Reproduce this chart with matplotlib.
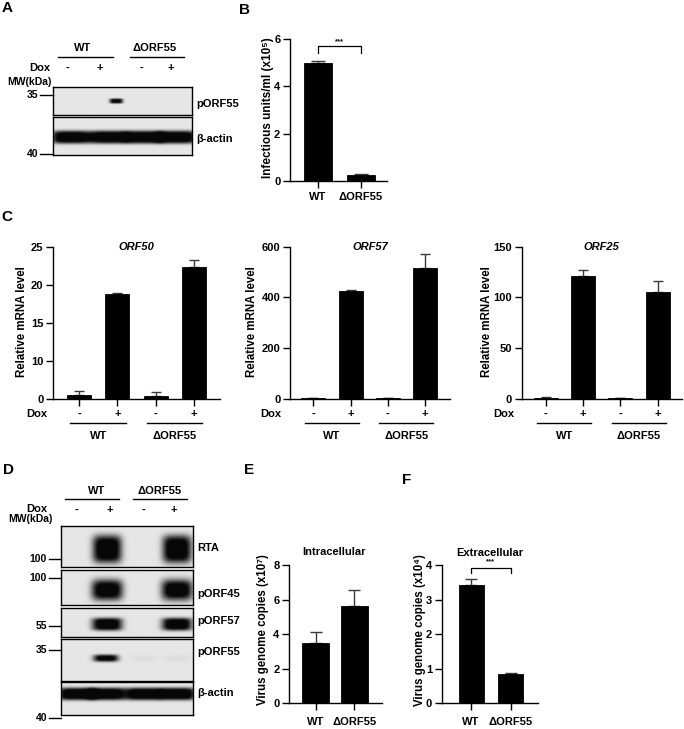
import numpy as np
import matplotlib.pyplot as plt
from matplotlib.lines import Line2D
from matplotlib.transforms import blended_transform_factory

plt.rcParams['font.family'] = ['Liberation Sans', 'DejaVu Sans']
plt.rcParams['font.weight'] = 'bold'
plt.rcParams['font.size'] = 8

# ---- data ----
groups = ['WT', 'ΔORF55']
dox = ['-', '+', '-', '+']

b_vals = [5.0, 0.26]
b_err = [0.08, 0.02]

orf50_vals = [1.0, 18.8, 0.8, 22.3]
orf50_err = [0.9, 0.1, 0.9, 1.0]
orf57_vals = [1.5, 425, 1.0, 515]
orf57_err = [0.5, 4, 0.5, 55]
orf25_vals = [1.0, 121, 0.5, 105.5]
orf25_err = [0.3, 5.7, 0.2, 10.7]

intra_vals = [3.5, 5.65]
intra_err = [0.6, 0.9]
extra_vals = [3.42, 0.86]
extra_err = [0.18, 0.02]

# band intensities per lane (WT -, WT +, dORF55 -, dORF55 +)
blotA_porf55 = [0, 0.9, 0, 0]
blotA_actin = [1, 1, 1, 1]
blotD_rta = [0, 1, 0, 1]
blotD_porf45 = [0, 1, 0, 1]
blotD_porf57 = [0, 1, 0, 1]
blotD_porf55 = [0, 0.95, 0.03, 0.03]
blotD_actin = [1, 1, 1, 1]

W, H = 684, 729
fig = plt.figure(figsize=(W / 100, H / 100), dpi=100)


def fx(x):
    return x / W


def fy(y):
    return 1 - y / H


def ftext(x, y, s, ha='center', **kw):
    fig.text(fx(x), fy(y), s, ha=ha, va='center', **kw)


def hline(x0, x1, y, lw=1.0):
    fig.add_artist(Line2D([fx(x0), fx(x1)], [fy(y), fy(y)], color='black', lw=lw))


def blot(x0, y0, x1, y1, lanes, levels, cy, hw, hh, bg=0.87, px=5, py=4):
    ax = fig.add_axes([fx(x0), fy(y1), (x1 - x0) / W, (y1 - y0) / H])
    xs = np.linspace(0, 1, 400)
    ys = np.linspace(0, 1, 150)
    X, Y = np.meshgrid(xs, ys)
    d = np.zeros_like(X)
    for cx, a in zip(lanes, levels):
        d += a * np.exp(-np.abs((X - cx) / hw) ** px) * np.exp(-np.abs((Y - cy) / hh) ** py)
    img = bg * (1 - np.clip(1.2 * d, 0, 1)) + 0.03
    ax.imshow(img, cmap='gray', vmin=0, vmax=1, extent=[0, 1, 1, 0],
              aspect='auto', interpolation='bilinear')
    ax.set_xticks([])
    ax.set_yticks([])
    for s in ax.spines.values():
        s.set_linewidth(1.0)
    return ax


def bar_axes(x0, x1, y_top, y_zero, centers, width_px, vals, errs, ymax, yticks,
             capsize=3, scale=None):
    ax = fig.add_axes([fx(x0), fy(y_zero), (x1 - x0) / W, (y_zero - y_top) / H])
    n = len(vals)
    step = (centers[-1] - centers[0]) / (n - 1)
    pos = np.arange(n)
    if scale is not None:
        ax.set_yscale('function', functions=scale)
    ax.errorbar(pos, vals, yerr=[np.zeros(n), errs], fmt='none', ecolor='#3a3a3a',
                elinewidth=1.0, capsize=capsize, capthick=1.0, zorder=2)
    ax.bar(pos, vals, width=width_px / step, color='black', edgecolor='black',
           linewidth=0.6, zorder=3)
    ax.set_xlim((x0 - centers[0]) / step, (x1 - centers[0]) / step)
    ax.set_ylim(0, ymax)
    ax.set_yticks(yticks)
    ax.set_xticks(pos)
    ax.spines['top'].set_visible(False)
    ax.spines['right'].set_visible(False)
    ax.spines['left'].set_linewidth(1.0)
    ax.spines['bottom'].set_linewidth(1.0)
    ax.tick_params(direction='out', length=5, width=1.0, labelsize=8, pad=2)
    return ax


def bracket(ax, x0, x1, y_top, y_low, y_star):
    ax.plot([x0, x0, x1, x1], [y_low, y_top, y_top, y_low], color='black', lw=0.9,
            clip_on=False)
    ax.text((x0 + x1) / 2, y_star, '***', ha='center', va='center', fontsize=5.5,
            clip_on=False)


# ---------------- panel letters ----------------
for s, x, y in [('A', 7, 8), ('B', 244, 10), ('C', 7, 217), ('D', 8, 470),
                ('E', 249, 470), ('F', 407, 480)]:
    ftext(x, y, s, fontsize=11)

# ---------------- panel A ----------------
ftext(83, 48, groups[0], fontsize=8)
ftext(155, 48, groups[1], fontsize=8)
hline(58, 113, 57)
hline(130, 184, 57)
ftext(40, 68, 'Dox', fontsize=8)
for x, s in zip([67, 100, 141, 171], dox):
    ftext(x, 68, s, fontsize=8)
ftext(29, 82, 'MW(kDa)', fontsize=7.5)
blot(53, 87, 192, 115, [0.13, 0.455, 0.65, 0.89], blotA_porf55, 0.5, 0.048, 0.09, px=4)
blot(53, 117, 192, 155, [0.13, 0.4, 0.65, 0.89], blotA_actin, 0.53, 0.14, 0.17)
ftext(38, 95, '35', ha='right', fontsize=7.5)
ftext(38, 154, '40', ha='right', fontsize=7.5)
hline(40, 53, 95)
hline(40, 53, 154)
ftext(196, 104, 'pORF55', ha='left', fontsize=8)
ftext(196, 139, 'β-actin', ha='left', fontsize=8)

# ---------------- panel B ----------------
axB = bar_axes(290, 387, 39, 181, [318, 361], 28, b_vals, b_err, 6, [0, 2, 4, 6], capsize=5)
axB.set_xticklabels(groups, fontsize=8)
axB.tick_params(axis='x', pad=3)
bracket(axB, 0, 1, 5.70, 5.41, 5.88)
ftext(268, 108, 'Infectious units/ml (x10⁵)', rotation=90, fontsize=8.5)

# ---------------- panel C ----------------
seg_fwd = lambda y: np.where(y <= 10, y / 10, 1 + (y - 10) / 5)
seg_inv = lambda u: np.where(u <= 1, u * 10, 10 + (u - 1) * 5)

c_specs = [
    ('ORF50', 53, 220, [79, 117, 155.5, 194], orf50_vals, orf50_err, 25, [0, 10, 15, 20, 25],
     (seg_fwd, seg_inv), 22),
    ('ORF57', 290, 450, [313.3, 351.3, 388, 425], orf57_vals, orf57_err, 600, [0, 200, 400, 600],
     None, 252),
    ('ORF25', 521.7, 681.7, [545.7, 583.3, 620.7, 657.7], orf25_vals, orf25_err, 150,
     [0, 50, 100, 150], None, 487),
]
for title, x0, x1, centers, vals, errs, ymax, yt, sc, ylab_x in c_specs:
    ax = bar_axes(x0, x1, 246.7, 398.7, centers, 24, vals, errs, ymax, yt, capsize=3.5, scale=sc)
    ax.set_xticklabels([])
    ax.text(0.5, 1.0, title, transform=ax.transAxes, ha='center', va='center',
            style='italic', fontsize=8)
    tr = blended_transform_factory(ax.transData, fig.transFigure)
    for i, s in enumerate(dox):
        ax.text(i, fy(414), s, transform=tr, ha='center', va='center', fontsize=8)
    ftext(centers[0] - 42, 414, 'Dox', fontsize=8)
    for a, b in [(0, 1), (2, 3)]:
        ax.plot([a - 0.23, b + 0.22], [fy(422.7)] * 2, transform=tr, color='black',
                lw=1.0, clip_on=False)
    ax.text(0.5, fy(435.7), groups[0], transform=tr, ha='center', va='center', fontsize=8)
    ax.text(2.5, fy(435.7), groups[1], transform=tr, ha='center', va='center', fontsize=8)
    ftext(ylab_x, 322, 'Relative mRNA level', rotation=90, fontsize=8.3)

# ---------------- panel D ----------------
ftext(97, 490.7, groups[0], fontsize=8)
ftext(159.3, 490.7, groups[1], fontsize=8)
hline(65, 119, 499.3)
hline(132.7, 187.3, 499.3)
ftext(37, 509.5, 'Dox', fontsize=8)
for x, s in zip([76.7, 110, 143.3, 174], dox):
    ftext(x, 509.5, s, fontsize=8)
ftext(30, 519, 'MW(kDa)', fontsize=7.5)

d_lanes = [0.12, 0.35, 0.625, 0.88]
blot(61, 526, 192.7, 566.7, d_lanes, blotD_rta, 0.565, 0.11, 0.34, px=4, py=4)
blot(61, 570, 192.7, 605, d_lanes, blotD_porf45, 0.57, 0.118, 0.3, px=4, py=3)
blot(61, 607.7, 192.7, 636.7, d_lanes, blotD_porf57, 0.56, 0.115, 0.22, px=4, py=4)
blot(61, 639, 192.7, 680.7, [0.12, 0.34, 0.625, 0.88], blotD_porf55, 0.456, 0.095, 0.085,
     px=4, py=3)
blot(61, 682.3, 192.7, 715, d_lanes, blotD_actin, 0.36, 0.14, 0.19)

for lab, y in [('100', 559), ('100', 577.7), ('55', 625.7), ('35', 650), ('40', 718.3)]:
    ftext(47, y, lab, ha='right', fontsize=7.5)
    hline(49, 61, y)
for lab, y in [('RTA', 547.7), ('pORF45', 594), ('pORF57', 621), ('pORF55', 651.7),
               ('β-actin', 693.3)]:
    ftext(197, y, lab, ha='left', fontsize=8)

# ---------------- panel E ----------------
axE = bar_axes(289.3, 381.7, 565, 703.3, [315.7, 354.3], 27.5, intra_vals, intra_err, 8,
               [0, 2, 4, 6, 8], capsize=4.5)
axE.set_xticklabels(groups, fontsize=8)
axE.tick_params(axis='x', pad=5)
ftext(334, 551.7, 'Intracellular', fontsize=8)
ftext(263.3, 630, 'Virus genome copies (x10⁷)', rotation=90, fontsize=8.3)

# ---------------- panel F ----------------
axF = bar_axes(441.7, 538.3, 565, 703.3, [471, 510.7], 25, extra_vals, extra_err, 4,
               [0, 1, 2, 3, 4], capsize=4.5)
axF.set_xticklabels(groups, fontsize=8)
axF.tick_params(axis='x', pad=5)
bracket(axF, 0, 1, 3.92, 3.76, 4.1)
ftext(490, 553.3, 'Extracellular', fontsize=8)
ftext(420, 630, 'Virus genome copies (x10⁴)', rotation=90, fontsize=8.3)

fig.savefig('out.png', dpi=100)
